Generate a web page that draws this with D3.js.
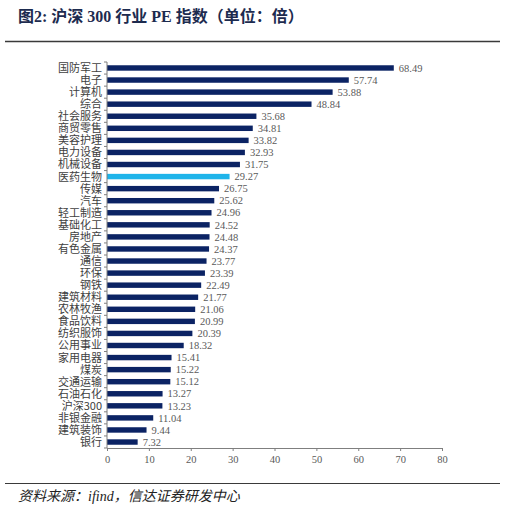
<!DOCTYPE html>
<html>
<head>
<meta charset="utf-8">
<script src="https://cdn.jsdelivr.net/npm/d3@7.9.0/dist/d3.min.js"></script>
<style>
  html, body { margin: 0; padding: 0; background: #fff; }
  svg { display: block; }
</style>
</head>
<body>
<div id="chart"></div>
<script>
// 行业名称（从上到下）
const industries = [
  "国防军工", "电子", "计算机", "综合", "社会服务", "商贸零售", "美容护理", "电力设备",
  "机械设备", "医药生物", "传媒", "汽车", "轻工制造", "基础化工", "房地产", "有色金属",
  "通信", "环保", "钢铁", "建筑材料", "农林牧渔", "食品饮料", "纺织服饰", "公用事业",
  "家用电器", "煤炭", "交通运输", "石油石化", "沪深300", "非银金融", "建筑装饰", "银行"
];
// PE 值
const peValues = [
  68.49, 57.74, 53.88, 48.84, 35.68, 34.81, 33.82, 32.93,
  31.75, 29.27, 26.75, 25.62, 24.96, 24.52, 24.48, 24.37,
  23.77, 23.39, 22.49, 21.77, 21.06, 20.99, 20.39, 18.32,
  15.41, 15.22, 15.12, 13.27, 13.23, 11.04, 9.44, 7.32
];
const xTicks = [0, 10, 20, 30, 40, 50, 60, 70, 80];
const highlight = "医药生物";

const data = industries.map((name, i) => ({ name, value: peValues[i] }));

const width = 505;
const height = 510;
const margin = { top: 62, right: 63, bottom: 62, left: 107 };
const innerWidth = width - margin.left - margin.right;
const innerHeight = height - margin.top - margin.bottom;

const navy = "#0b2364";
const cyan = "#1eb4ea";
const grey = "#404040";

const svg = d3.select("#chart")
  .append("svg")
  .attr("width", width)
  .attr("height", height);

// 标题
svg.append("text")
  .attr("x", 18)
  .attr("y", 22)
  .attr("fill", "#1d2b4f")
  .attr("font-family", "'Liberation Serif', 'Noto Sans CJK SC', serif")
  .attr("font-weight", "bold")
  .attr("font-size", 16)
  .text("图2: 沪深 300 行业 PE 指数（单位：倍）");

// 上下分隔线
svg.append("line")
  .attr("x1", 5).attr("x2", 500)
  .attr("y1", 41.5).attr("y2", 41.5)
  .attr("stroke", "#3a3a3a").attr("stroke-width", 1.5);

svg.append("line")
  .attr("x1", 5).attr("x2", 500)
  .attr("y1", 483.5).attr("y2", 483.5)
  .attr("stroke", "#3a3a3a").attr("stroke-width", 1.2);

// 资料来源
svg.append("text")
  .attr("x", 18)
  .attr("y", 501)
  .attr("fill", "#222")
  .attr("font-family", "'Liberation Serif', 'Noto Sans CJK SC', serif")
  .attr("font-style", "italic")
  .attr("font-size", 14)
  .text("资料来源：ifind，信达证券研发中心");

const g = svg.append("g")
  .attr("transform", `translate(${margin.left},${margin.top})`);

const xScale = d3.scaleLinear().domain([0, 80]).range([0, innerWidth]);
const yScale = d3.scaleBand()
  .domain(industries)
  .range([0, innerHeight])
  .paddingInner(0.55)
  .paddingOuter(0.27);

// 柱子
g.append("g")
  .selectAll("rect")
  .data(data)
  .join("rect")
  .attr("x", 0)
  .attr("y", (d) => yScale(d.name))
  .attr("width", (d) => xScale(d.value))
  .attr("height", yScale.bandwidth())
  .attr("fill", (d) => (d.name === highlight ? cyan : navy));

// 数值标签
g.append("g")
  .selectAll("text")
  .data(data)
  .join("text")
  .attr("x", (d) => xScale(d.value) + 5)
  .attr("y", (d) => yScale(d.name) + yScale.bandwidth() / 2)
  .attr("dy", "0.35em")
  .attr("font-family", "'Liberation Serif', serif")
  .attr("font-size", 10.5)
  .attr("fill", "#595959")
  .text((d) => d.value.toFixed(2));

// x 轴
const xAxis = g.append("g")
  .attr("transform", `translate(0,${innerHeight})`)
  .call(d3.axisBottom(xScale).tickValues(xTicks).tickSize(3).tickSizeOuter(0).tickPadding(5));
xAxis.select(".domain").attr("stroke", "#7f7f7f");
xAxis.selectAll(".tick line").attr("stroke", "#7f7f7f");
xAxis.selectAll("text")
  .attr("font-family", "'Liberation Serif', serif")
  .attr("font-size", 10.5)
  .attr("fill", "#595959");

// y 轴：刻度在类别之间（Excel 风格）
const yAxis = g.append("g");
yAxis.append("line")
  .attr("x1", 0).attr("x2", 0)
  .attr("y1", 0).attr("y2", innerHeight)
  .attr("stroke", "#7f7f7f");
yAxis.selectAll("line.tick")
  .data(d3.range(industries.length + 1))
  .join("line")
  .attr("class", "tick")
  .attr("x1", -3).attr("x2", 0)
  .attr("y1", (i) => (i * innerHeight) / industries.length)
  .attr("y2", (i) => (i * innerHeight) / industries.length)
  .attr("stroke", "#7f7f7f");
yAxis.selectAll("text")
  .data(industries)
  .join("text")
  .attr("x", -5)
  .attr("y", (d) => yScale(d) + yScale.bandwidth() / 2)
  .attr("dy", "0.36em")
  .attr("text-anchor", "end")
  .attr("font-family", "'Noto Sans CJK SC', sans-serif")
  .attr("font-size", 11)
  .attr("fill", grey)
  .text((d) => d);
</script>
</body>
</html>
